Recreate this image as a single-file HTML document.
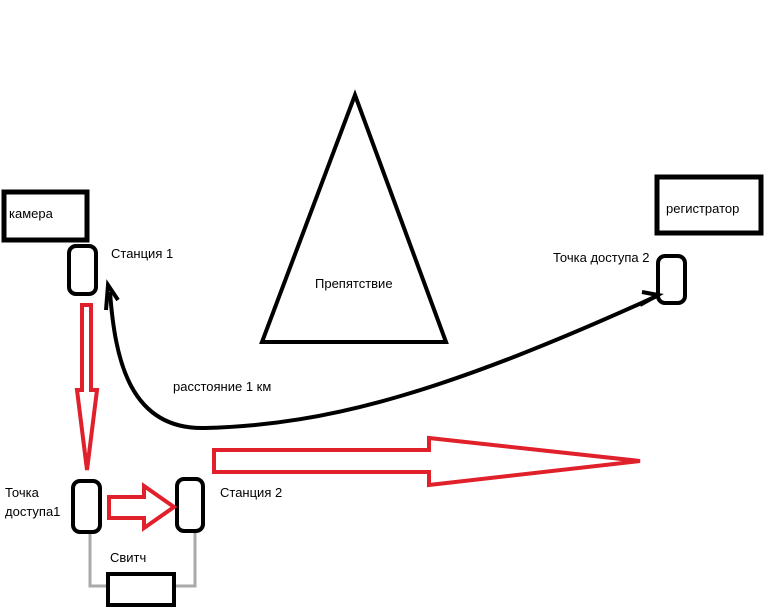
<!DOCTYPE html>
<html><head><meta charset="utf-8"><style>
body{margin:0;background:#fff;width:768px;height:614px;overflow:hidden}
svg{display:block}
text{font-family:"Liberation Sans","DejaVu Sans",sans-serif;font-size:13px;fill:#000}
</style></head><body>
<svg width="768" height="614" viewBox="0 0 768 614">
<rect x="4" y="192" width="83" height="48" fill="none" stroke="#000" stroke-width="5"/>
<text x="9" y="218">камера</text>
<rect x="69" y="246" width="27" height="48" rx="7" fill="none" stroke="#000" stroke-width="4"/>
<text x="111" y="258">Станция 1</text>
<polygon points="82,305 91,305 91,390 97,390 87,470 77,390 82,390" fill="none" stroke="#e0202a" stroke-width="4"/>
<rect x="73" y="481" width="27" height="51" rx="7" fill="none" stroke="#000" stroke-width="4"/>
<rect x="177" y="479" width="26" height="52" rx="7" fill="none" stroke="#000" stroke-width="4"/>
<text x="5" y="497">Точка</text>
<text x="5" y="516">доступа1</text>
<text x="220" y="497">Станция 2</text>
<polygon points="109,497 144,497 144,486 174,507 144,528 144,518 109,518" fill="none" stroke="#e0202a" stroke-width="4"/>
<path d="M90,534 V586 H107 M195,533 V586 H176" fill="none" stroke="#aaa" stroke-width="3"/>
<text x="110" y="562">Свитч</text>
<rect x="108" y="574" width="66" height="31" fill="none" stroke="#000" stroke-width="4"/>
<polygon points="214,450 429,450 429,438 640,461 429,485 429,472 214,472" fill="none" stroke="#e0202a" stroke-width="4"/>
<polygon points="355,95 262,342 446,342" fill="none" stroke="#000" stroke-width="4"/>
<text x="315" y="288">Препятствие</text>
<rect x="657" y="177" width="104" height="56" fill="none" stroke="#000" stroke-width="5"/>
<text x="666" y="213">регистратор</text>
<text x="553" y="262">Точка доступа 2</text>
<rect x="658" y="256" width="27" height="47" rx="7" fill="none" stroke="#000" stroke-width="4"/>
<path d="M110,292 C115,360 130,430 205,428 C330,425 450,390 657,296" fill="none" stroke="#000" stroke-width="4"/>
<path d="M106,310 L108,285 L118,300" fill="none" stroke="#000" stroke-width="4"/>
<path d="M640,305 L658,295 L642,292" fill="none" stroke="#000" stroke-width="4"/>
<text x="173" y="391">расстояние 1 км</text>
</svg>
</body></html>
